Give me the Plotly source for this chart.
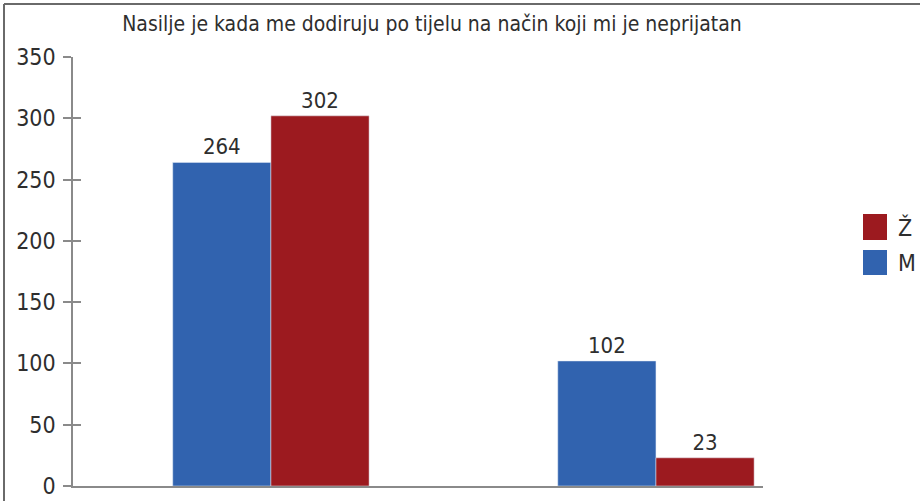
import plotly.graph_objects as go

title = "Nasilje je kada me dodiruju po tijelu na način koji mi je neprijatan"
categories = ["Da", "Ne"]
series_names = ["M", "Ž"]
values_m = [264, 102]
values_z = [302, 23]
y_ticks = [0, 50, 100, 150, 200, 250, 300, 350]

BLUE = "#3163AF"
RED = "#9C1A1F"
TXT = "#2e2e2e"
FONT = "Liberation Sans Narrow, Arial Narrow, DejaVu Sans Condensed, sans-serif"

W, H = 920, 501
L, R, T, B = 73, 157, 57, 15
pw = W - L - R
ph = H - T - B

def px(x):
    return (x - L) / pw

def py(y):
    return (H - B - y) / ph

fig = go.Figure()
fig.add_bar(x=categories, y=values_m, name=series_names[0], marker_color=BLUE,
            text=[str(v) for v in values_m], textposition="outside",
            textfont=dict(size=22, color=TXT, family=FONT), cliponaxis=False)
fig.add_bar(x=categories, y=values_z, name=series_names[1], marker_color=RED,
            text=[str(v) for v in values_z], textposition="outside",
            textfont=dict(size=22, color=TXT, family=FONT), cliponaxis=False)

shapes = [
    dict(type="line", xref="paper", yref="paper", x0=px(4), x1=px(925), y0=py(4), y1=py(4),
         line=dict(color="#6a6a6a", width=2)),
    dict(type="line", xref="paper", yref="paper", x0=px(4), x1=px(4), y0=py(4), y1=py(505),
         line=dict(color="#6a6a6a", width=2)),
    dict(type="rect", xref="paper", yref="paper", x0=px(863), x1=px(887), y0=py(240), y1=py(214),
         fillcolor=RED, line=dict(width=0)),
    dict(type="rect", xref="paper", yref="paper", x0=px(863), x1=px(887), y0=py(275), y1=py(250),
         fillcolor=BLUE, line=dict(width=0)),
]
annotations = [
    dict(text=series_names[1], xref="paper", yref="paper", x=px(896), y=py(227), xanchor="left",
         yanchor="middle", showarrow=False, font=dict(size=23, color=TXT, family=FONT)),
    dict(text=series_names[0], xref="paper", yref="paper", x=px(896), y=py(263), xanchor="left",
         yanchor="middle", showarrow=False, font=dict(size=23, color=TXT, family=FONT)),
]

fig.update_layout(
    width=W, height=H,
    margin=dict(l=L, r=R, t=T, b=B),
    paper_bgcolor="white", plot_bgcolor="white",
    barmode="group", bargap=0.49, bargroupgap=0,
    showlegend=False,
    title=dict(text=title, x=px(432), xref="paper", xanchor="center",
               y=1 - 24 / H, yanchor="middle",
               font=dict(size=21, color=TXT, family=FONT)),
    font=dict(family=FONT, color=TXT),
    xaxis=dict(type="category", range=[-0.514, 1.278], showline=True, linecolor="#8a8a8a",
               linewidth=1.5, showticklabels=False, ticks="", showgrid=False, zeroline=False,
               automargin=False),
    yaxis=dict(range=[0, 350], tickvals=y_ticks, showline=True, linecolor="#8a8a8a",
               linewidth=1.5, ticks="outside", ticklen=8, tickcolor="#8a8a8a", tickwidth=1.5,
               ticklabelstandoff=3, tickfont=dict(size=23, color=TXT, family=FONT),
               showgrid=False, zeroline=False, automargin=False),
    yaxis2=dict(range=[0, 350], overlaying="y", side="left", anchor="x", tickvals=y_ticks,
                ticks="inside", ticklen=8, tickcolor="#8a8a8a", tickwidth=1.5,
                showticklabels=False, showline=False, showgrid=False, zeroline=False,
                automargin=False),
    shapes=shapes,
    annotations=annotations,
)
fig.add_scatter(x=categories, y=[0, 0], yaxis="y2", mode="markers",
                marker=dict(opacity=0), hoverinfo="skip", showlegend=False)

fig.write_html("out.html", config={"displayModeBar": False},
               post_script="document.body.style.margin='0px';document.body.style.overflow='hidden';")
